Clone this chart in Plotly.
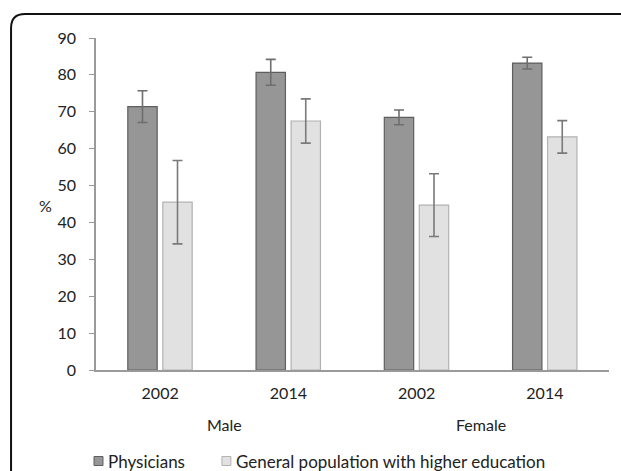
import plotly.graph_objects as go

# Survey results by sex and year
categories = ["Male 2002", "Male 2014", "Female 2002", "Female 2014"]
year_labels = ["2002", "2014", "2002", "2014"]
sex_groups = ["Male", "Female"]
series_names = ["Physicians", "General population with higher education"]

physicians = [71.4, 80.7, 68.5, 83.2]
physicians_err = [4.3, 3.5, 2.0, 1.6]

general_pop = [45.5, 67.5, 44.7, 63.2]
general_pop_err = [11.3, 6.0, 8.5, 4.4]

W, H = 621, 471
L, R, T, B = 96, 11.7, 38, 101
PW, PH = W - L - R, H - T - B
FONT = "Lato"
TXT = "#222222"

fills = ["#969696", "#e1e1e1"]
edges = ["#5e5e5e", "#b2b2b2"]
err_colors = ["#6e6e6e", "#7a7a7a"]


def px_to_paper(x, y):
    return (x - L) / PW, (H - B - y) / PH


def rounded_rect_path(x0, y0, x1, y1, r):
    def P(x, y):
        u, v = px_to_paper(x, y)
        return f"{u:.5f},{v:.5f}"
    path = f"M {P(x0 + r, y0)} L {P(x1 - r, y0)} Q {P(x1, y0)} {P(x1, y0 + r)} "
    path += f"L {P(x1, y1 - r)} Q {P(x1, y1)} {P(x1 - r, y1)} "
    path += f"L {P(x0 + r, y1)} Q {P(x0, y1)} {P(x0, y1 - r)} "
    path += f"L {P(x0, y0 + r)} Q {P(x0, y0)} {P(x0 + r, y0)} Z"
    return path


fig = go.Figure()
for name, vals, errs, fill, edge, ec, off in zip(
        series_names, [physicians, general_pop], [physicians_err, general_pop_err],
        fills, edges, err_colors, [-0.252, 0.021]):
    fig.add_trace(go.Bar(
        x=categories, y=vals, name=name,
        marker=dict(color=fill, line=dict(color=edge, width=1.2)),
        width=0.229, offset=off,
        error_y=dict(type="data", array=errs, color=ec, thickness=1.6, width=5),
        showlegend=False,
    ))

annotations = []
for sex in sex_groups:
    cx = (categories.index(f"{sex} 2002") + categories.index(f"{sex} 2014")) / 2
    annotations.append(dict(
        x=cx, xref="x", y=px_to_paper(0, 424)[1], yref="paper",
        text=sex, showarrow=False, font=dict(family=FONT, size=16, color=TXT),
        xanchor="center", yanchor="middle",
    ))
annotations.append(dict(
    x=px_to_paper(45, 0)[0], xref="paper", y=px_to_paper(0, 205)[1], yref="paper",
    text="%", showarrow=False, font=dict(family=FONT, size=16, color=TXT),
    xanchor="center", yanchor="middle",
))

# bottom legend: small square swatch followed by the series name
shapes = []
legend_y = 461
sq = 9
for name, fill, edge, sx in zip(series_names, fills, edges, [94, 222]):
    u0, v0 = px_to_paper(sx, legend_y + sq / 2)
    u1, v1 = px_to_paper(sx + sq, legend_y - sq / 2)
    shapes.append(dict(type="rect", xref="paper", yref="paper",
                       x0=u0, x1=u1, y0=v0, y1=v1,
                       fillcolor=fill, line=dict(color=edge, width=1)))
    annotations.append(dict(
        x=px_to_paper(sx + sq + 3, 0)[0], xref="paper",
        y=px_to_paper(0, legend_y)[1], yref="paper",
        text=name, showarrow=False, font=dict(family=FONT, size=17, color=TXT),
        xanchor="left", yanchor="middle",
    ))

shapes.append(dict(
    type="path", xref="paper", yref="paper",
    path=rounded_rect_path(11, 14, 640, 490, 14),
    line=dict(color="#111111", width=2), fillcolor="rgba(0,0,0,0)",
    layer="below",
))

fig.update_layout(
    width=W, height=H,
    margin=dict(l=L, r=R, t=T, b=B, pad=0, autoexpand=False),
    paper_bgcolor="white", plot_bgcolor="white",
    barmode="overlay",
    font=dict(family=FONT, size=16, color=TXT),
    xaxis=dict(
        type="category", range=[-0.5, 3.5],
        tickvals=categories, ticktext=year_labels,
        showline=True, linecolor="#9a9a9a", linewidth=1.5,
        ticks="", showgrid=False, zeroline=False,
        tickfont=dict(family=FONT, size=16, color=TXT),
        ticklabelstandoff=8,
    ),
    yaxis=dict(
        range=[0, 90], tickvals=list(range(0, 91, 10)),
        showline=True, linecolor="#9a9a9a", linewidth=1.5,
        ticks="outside", ticklen=5, tickcolor="#9a9a9a", tickwidth=1.2,
        showgrid=False, zeroline=False,
        tickfont=dict(family=FONT, size=16, color=TXT),
        ticklabelstandoff=10,
    ),
    annotations=annotations,
    shapes=shapes,
)

fig.write_html("out.html")
